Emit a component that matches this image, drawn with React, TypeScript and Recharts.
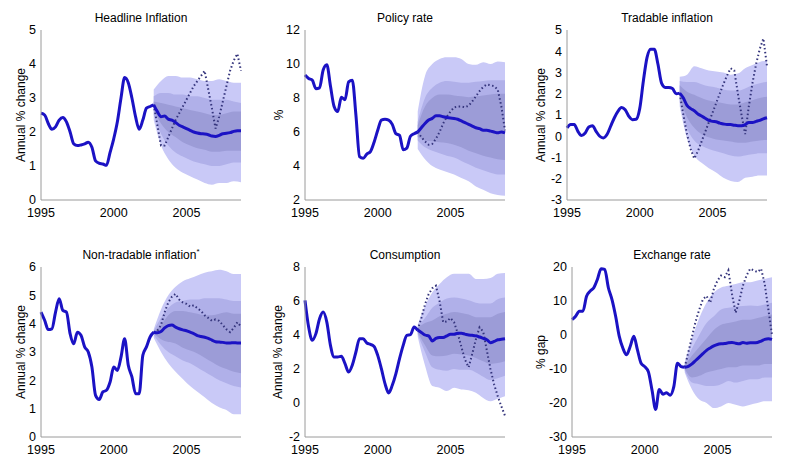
import { ComposedChart, Line, Area, XAxis, YAxis } from 'recharts';

// time points (quarters)
const histQuarters = [
  1995, 1995.25, 1995.5, 1995.75, 1996, 1996.25, 1996.5, 1996.75,
  1997, 1997.25, 1997.5, 1997.75, 1998, 1998.25, 1998.5, 1998.75,
  1999, 1999.25, 1999.5, 1999.75, 2000, 2000.25, 2000.5, 2000.75,
  2001, 2001.25, 2001.5, 2001.75, 2002, 2002.25, 2002.5, 2002.75,
];
const fcQuarters = [
  2002.75, 2003, 2003.25, 2003.5, 2003.75, 2004, 2004.25, 2004.5, 2004.75,
  2005, 2005.25, 2005.5, 2005.75, 2006, 2006.25, 2006.5, 2006.75,
  2007, 2007.25, 2007.5, 2007.75, 2008, 2008.25, 2008.5, 2008.75,
];
const bandQuarters = [
  2002.75, 2003.25, 2003.75, 2004.25, 2004.75, 2005.25, 2005.75,
  2006.25, 2006.75, 2007.25, 2007.75, 2008.25, 2008.75,
];
const yearTicks = [1995, 2000, 2005];

// Headline inflation
const headlineHist = [2.55, 2.5, 2.25, 2.08, 2.15, 2.35, 2.43, 2.3, 2.0, 1.65, 1.6, 1.62, 1.65, 1.7, 1.55, 1.15, 1.08, 1.06, 1.02, 1.4, 1.8, 2.3, 3.0, 3.6, 3.45, 3.0, 2.45, 2.08, 2.35, 2.7, 2.75, 2.8];
const headlineMedian = [2.8, 2.6, 2.45, 2.47, 2.38, 2.35, 2.28, 2.2, 2.15, 2.1, 2.05, 2.0, 1.97, 1.95, 1.94, 1.92, 1.88, 1.87, 1.9, 1.95, 1.96, 1.98, 2.02, 2.04, 2.04];
const headlinePath = [2.8, 2.2, 1.6, 1.6, 1.85, 2.1, 2.35, 2.55, 2.75, 2.95, 3.15, 3.35, 3.5, 3.65, 3.8, 3.25, 2.7, 2.1, 2.45, 2.9, 3.35, 3.8, 4.1, 4.3, 3.8];
const headlineOuterHi = [3.25, 3.5, 3.65, 3.65, 3.6, 3.6, 3.55, 3.5, 3.5, 3.55, 3.5, 3.45, 3.45];
const headlineMidHi = [3.05, 3.15, 3.15, 3.1, 3.1, 3.05, 3.05, 3.0, 2.95, 2.95, 2.95, 2.9, 2.85];
const headlineInnerHi = [2.9, 2.85, 2.8, 2.75, 2.7, 2.65, 2.6, 2.55, 2.5, 2.5, 2.55, 2.6, 2.6];
const headlineInnerLo = [2.65, 2.25, 2.0, 1.85, 1.7, 1.6, 1.52, 1.48, 1.42, 1.42, 1.45, 1.45, 1.45];
const headlineMidLo = [2.5, 1.95, 1.6, 1.4, 1.28, 1.18, 1.1, 1.05, 1.0, 1.0, 1.05, 1.1, 1.1];
const headlineOuterLo = [2.35, 1.6, 1.2, 0.95, 0.8, 0.7, 0.6, 0.5, 0.45, 0.5, 0.5, 0.55, 0.52];
const headlineTicks = [0, 1, 2, 3, 4, 5];

// Policy rate
const policyHist = [9.35, 9.15, 9.05, 8.55, 8.6, 9.65, 9.95, 8.7, 7.5, 7.2, 8.05, 7.9, 8.95, 9.05, 7.0, 4.55, 4.45, 4.7, 4.85, 5.4, 6.1, 6.7, 6.75, 6.7, 6.45, 5.9, 5.8, 4.95, 5.05, 5.75, 5.9, 6.0];
const policyMedian = [6.0, 6.25, 6.5, 6.7, 6.8, 6.95, 6.95, 6.9, 6.85, 6.82, 6.8, 6.75, 6.65, 6.55, 6.45, 6.35, 6.25, 6.2, 6.1, 6.1, 6.05, 6.0, 5.95, 6.0, 5.95];
const policyPath = [6.0, 5.7, 5.45, 5.25, 5.3, 5.6, 6.0, 6.5, 6.9, 7.2, 7.45, 7.5, 7.5, 7.45, 7.55, 7.8, 8.1, 8.4, 8.65, 8.8, 8.75, 8.7, 8.5, 7.5, 6.1];
const policyOuterHi = [7.2, 9.3, 10.0, 10.3, 10.4, 10.4, 10.3, 10.0, 9.95, 10.1, 10.0, 10.15, 10.1];
const policyMidHi = [6.6, 8.0, 8.6, 8.9, 9.0, 8.95, 8.9, 8.9, 8.95, 9.0, 9.05, 9.05, 9.05];
const policyInnerHi = [6.4, 7.5, 8.0, 8.2, 8.2, 8.15, 8.1, 8.05, 8.1, 8.15, 8.2, 8.25, 8.25];
const policyInnerLo = [5.7, 5.5, 5.45, 5.4, 5.35, 5.25, 5.1, 4.9, 4.75, 4.6, 4.5, 4.4, 4.35];
const policyMidLo = [5.5, 5.1, 4.9, 4.75, 4.6, 4.5, 4.3, 4.1, 3.9, 3.75, 3.6, 3.5, 3.5];
const policyOuterLo = [5.0, 4.4, 4.0, 3.8, 3.65, 3.5, 3.3, 3.1, 2.8, 2.6, 2.4, 2.3, 2.25];
const policyTicks = [2, 4, 6, 8, 10, 12];

// Tradable inflation
const tradableHist = [0.39, 0.55, 0.55, 0.23, 0.03, 0.15, 0.44, 0.5, 0.23, 0.0, -0.08, 0.08, 0.47, 0.86, 1.17, 1.35, 1.25, 0.94, 0.78, 0.8, 1.3, 2.6, 3.7, 4.1, 4.1, 3.4, 2.5, 2.3, 2.3, 2.25, 2.0, 2.03];
const tradableMedian = [2.03, 1.8, 1.45, 1.3, 1.2, 1.05, 0.95, 0.85, 0.75, 0.7, 0.68, 0.62, 0.58, 0.55, 0.55, 0.52, 0.5, 0.5, 0.55, 0.65, 0.65, 0.7, 0.75, 0.82, 0.87];
const tradablePath = [2.0, 1.0, 0.1, -0.6, -1.05, -0.7, -0.25, 0.2, 0.65, 1.1, 1.55, 2.0, 2.45, 2.85, 3.2, 3.1, 2.0, 1.0, 0.1, 1.4, 2.5, 3.4, 4.1, 4.6, 3.3];
const tradableOuterHi = [2.8, 2.9, 3.3, 3.2, 3.1, 3.05, 3.0, 2.9, 2.95, 3.2, 3.35, 3.5, 3.55];
const tradableMidHi = [2.6, 2.55, 2.55, 2.45, 2.35, 2.3, 2.2, 2.15, 2.15, 2.25, 2.4, 2.5, 2.57];
const tradableInnerHi = [2.4, 2.1, 1.95, 1.8, 1.68, 1.62, 1.55, 1.5, 1.5, 1.6, 1.7, 1.8, 1.86];
const tradableInnerLo = [1.8, 0.9, 0.4, 0.1, -0.05, -0.15, -0.2, -0.25, -0.3, -0.3, -0.25, -0.2, -0.18];
const tradableMidLo = [1.6, 0.4, -0.2, -0.45, -0.6, -0.7, -0.8, -0.9, -0.95, -0.9, -0.85, -0.8, -0.8];
const tradableOuterLo = [1.4, -0.1, -0.9, -1.25, -1.5, -1.7, -1.95, -2.1, -2.15, -1.95, -1.9, -1.85, -1.85];
const tradableTicks = [-3, -2, -1, 0, 1, 2, 3, 4, 5];

// Non-tradable inflation
const nontradHist = [4.41, 4.12, 3.79, 3.82, 4.41, 4.88, 4.47, 4.41, 3.65, 3.29, 3.7, 3.59, 3.18, 3.0, 2.47, 1.47, 1.32, 1.59, 1.65, 1.94, 2.47, 2.35, 2.82, 3.47, 2.53, 2.12, 1.53, 1.53, 2.88, 3.18, 3.53, 3.7];
const nontradMedian = [3.7, 3.68, 3.72, 3.85, 3.93, 3.95, 3.88, 3.82, 3.78, 3.75, 3.7, 3.65, 3.58, 3.55, 3.52, 3.48, 3.42, 3.36, 3.35, 3.34, 3.32, 3.32, 3.33, 3.32, 3.32];
const nontradPath = [3.7, 3.75, 3.95, 4.4, 4.75, 4.95, 5.05, 4.85, 4.75, 4.7, 4.6, 4.65, 4.55, 4.45, 4.3, 4.2, 4.1, 4.15, 4.1, 3.95, 3.8, 3.7, 3.85, 4.05, 3.9];
const nontradOuterHi = [3.8, 4.5, 5.0, 5.3, 5.5, 5.6, 5.7, 5.8, 5.85, 5.9, 5.85, 5.75, 5.75];
const nontradMidHi = [3.75, 4.2, 4.55, 4.75, 4.8, 4.85, 4.85, 4.9, 4.9, 4.9, 4.85, 4.8, 4.8];
const nontradInnerHi = [3.72, 3.95, 4.3, 4.45, 4.45, 4.4, 4.35, 4.3, 4.3, 4.35, 4.4, 4.35, 4.35];
const nontradInnerLo = [3.65, 3.45, 3.35, 3.3, 3.15, 3.05, 2.95, 2.8, 2.65, 2.5, 2.4, 2.3, 2.25];
const nontradMidLo = [3.6, 3.25, 3.0, 2.85, 2.7, 2.6, 2.45, 2.3, 2.15, 2.0, 1.9, 1.8, 1.75];
const nontradOuterLo = [3.5, 3.0, 2.6, 2.3, 2.05, 1.8, 1.6, 1.4, 1.2, 1.05, 0.95, 0.8, 0.8];
const nontradTicks = [0, 1, 2, 3, 4, 5, 6];

// Consumption
const consHist = [6.04, 4.47, 3.69, 4.08, 4.96, 5.35, 4.76, 3.39, 2.71, 2.71, 2.75, 2.31, 1.82, 2.22, 3.0, 3.78, 3.78, 3.53, 3.45, 3.33, 2.8, 2.02, 1.14, 0.59, 1.04, 1.73, 2.61, 3.39, 3.98, 4.02, 4.47, 4.27];
const consMedian = [4.3, 4.15, 4.0, 3.95, 3.65, 3.8, 3.85, 3.85, 3.95, 4.05, 4.05, 4.1, 4.1, 4.05, 4.0, 3.98, 3.95, 3.88, 3.8, 3.72, 3.55, 3.62, 3.72, 3.75, 3.78];
const consPath = [4.3, 5.0, 5.8, 6.4, 6.75, 6.9, 6.0, 4.75, 4.8, 5.0, 4.75, 4.1, 3.3, 2.55, 2.1, 2.9, 3.75, 4.45, 4.2, 3.1, 2.0, 1.1, 0.4, -0.2, -0.75];
const consOuterHi = [4.6, 5.7, 6.5, 7.0, 7.4, 7.6, 7.6, 7.6, 7.3, 7.3, 7.35, 7.6, 7.65];
const consMidHi = [4.5, 5.0, 5.6, 5.9, 6.15, 6.2, 6.15, 6.05, 5.9, 5.85, 5.85, 6.1, 6.2];
const consInnerHi = [4.4, 4.7, 4.85, 5.1, 5.25, 5.35, 5.3, 5.2, 5.05, 5.05, 5.05, 5.25, 5.35];
const consInnerLo = [4.15, 3.4, 2.8, 2.75, 2.8, 2.9, 2.85, 2.8, 2.65, 2.45, 2.3, 2.35, 2.45];
const consMidLo = [4.05, 3.0, 2.1, 1.95, 1.9, 2.0, 1.95, 1.95, 1.8, 1.55, 1.35, 1.45, 1.6];
const consOuterLo = [3.9, 2.2, 1.0, 0.9, 0.7, 0.9, 0.8, 0.75, 0.6, 0.3, 0.1, 0.25, 0.4];
const consTicks = [-2, 0, 2, 4, 6, 8];

// Exchange rate
const fxHist = [4.5, 5.5, 7.0, 7.0, 11.4, 12.9, 13.9, 16.4, 19.5, 19.3, 13.9, 10.4, 5.5, -0.4, -3.9, -5.8, -3.4, -0.4, -4.4, -8.3, -9.3, -10.8, -16.2, -21.9, -16.0, -17.4, -17.0, -17.7, -15.2, -8.3, -9.3, -9.5];
const fxMedian = [-9.5, -9.2, -8.5, -7.5, -6.5, -5.5, -4.5, -3.8, -3.2, -2.8, -2.6, -2.5, -2.3, -2.2, -2.4, -2.6, -2.2, -2.4, -2.3, -2.3, -2.2, -1.8, -1.3, -1.1, -1.3];
const fxPath = [-9.5, -5, -0.5, 4, 7.5, 10.5, 11.5, 9.5, 13.5, 16, 17.5, 17, 19, 12, 6.5, 10, 14.5, 17.5, 19.5, 19, 18.5, 19.5, 15, 7.5, 0];
const fxOuterHi = [-8, -1, 5, 9.5, 12.5, 14, 14.5, 15, 15.5, 15.5, 16, 16.5, 17];
const fxMidHi = [-8.5, -4, 0, 3.5, 5.5, 7.5, 8, 8.3, 8.5, 8.7, 8.5, 9, 9.5];
const fxInnerHi = [-9, -6, -3.5, -1, 1.5, 3, 3.5, 4, 4.5, 4.5, 5, 5.5, 6];
const fxInnerLo = [-10, -12.5, -12, -11, -10.5, -10, -9.5, -9.5, -9, -9, -9, -8.5, -8.5];
const fxMidLo = [-10.5, -14, -14.5, -15, -15, -14.5, -13.5, -14, -13.5, -13, -13, -12.5, -12.5];
const fxOuterLo = [-11, -16, -19, -20, -21.5, -21, -20, -20.5, -21, -20.5, -20, -19.5, -19.5];
const fxTicks = [-30, -20, -10, 0, 10, 20];

type Series = {
  hist: number[]; median: number[]; path: number[];
  outerHi: number[]; midHi: number[]; innerHi: number[];
  innerLo: number[]; midLo: number[]; outerLo: number[];
};

function buildRows(s: Series) {
  const map = new Map<number, any>();
  const row = (t: number) => {
    if (!map.has(t)) map.set(t, { t });
    return map.get(t);
  };
  histQuarters.forEach((t, i) => { row(t).hist = s.hist[i]; });
  fcQuarters.forEach((t, i) => {
    const r = row(t);
    r.median = s.median[i];
    r.path = s.path[i];
  });
  bandQuarters.forEach((t, i) => {
    const r = row(t);
    r.outer = [s.outerLo[i], s.outerHi[i]];
    r.mid = [s.midLo[i], s.midHi[i]];
    r.inner = [s.innerLo[i], s.innerHi[i]];
  });
  return [...map.values()].sort((a, b) => a.t - b.t);
}

const FONT = '"Liberation Sans", Arial, Helvetica, sans-serif';
const AXIS = '#9a9a9a';
const BLUE = '#1b12c4';

const PLOT_W = 200;
const PLOT_H = 170;
const TOP = 12;
const XAXIS_H = 30;

type PanelProps = {
  title: React.ReactNode;
  yLabel: string;
  ticks: number[];
  series: Series;
  plotLeft: number;
  plotTop: number;
  labelWidth: number;
};

function Panel({ title, yLabel, ticks, series, plotLeft, plotTop, labelWidth }: PanelProps) {
  const rows = buildRows(series);
  const w = labelWidth + PLOT_W + 6;
  const h = TOP + PLOT_H + XAXIS_H;
  return (
    <>
      <div style={{ position: 'absolute', left: plotLeft - labelWidth, top: plotTop - TOP }}>
        <ComposedChart width={w} height={h} data={rows} margin={{ top: TOP, right: 6, bottom: 0, left: 0 }}>
          <XAxis
            dataKey="t"
            type="number"
            domain={[1995, 2008.75]}
            ticks={yearTicks}
            interval={0}
            height={XAXIS_H}
            axisLine={{ stroke: AXIS }}
            tickLine={false}
            tickSize={0}
            tickMargin={8}
            tick={{ fill: '#000', fontSize: 12.5, fontFamily: FONT }}
          />
          <YAxis
            type="number"
            domain={[ticks[0], ticks[ticks.length - 1]]}
            ticks={ticks}
            interval={0}
            width={labelWidth}
            axisLine={{ stroke: AXIS }}
            tickLine={false}
            tickSize={0}
            tickMargin={5}
            tick={{ fill: '#000', fontSize: 12.5, fontFamily: FONT }}
            label={{ value: yLabel, angle: -90, position: 'center', style: { fill: '#000', fontSize: 12, fontFamily: FONT } }}
          />
          <Area dataKey="outer" type="monotone" stroke="none" fill="#c9c9f7" fillOpacity={1} connectNulls isAnimationActive={false} dot={false} activeDot={false} />
          <Area dataKey="mid" type="monotone" stroke="none" fill="#b0b0e9" fillOpacity={1} connectNulls isAnimationActive={false} dot={false} activeDot={false} />
          <Area dataKey="inner" type="monotone" stroke="none" fill="#9c9cd7" fillOpacity={1} connectNulls isAnimationActive={false} dot={false} activeDot={false} />
          <Line dataKey="path" type="linear" stroke="#34347c" strokeWidth={2} strokeDasharray="1.5 2.5" dot={false} activeDot={false} connectNulls isAnimationActive={false} />
          <Line dataKey="hist" type="monotone" stroke={BLUE} strokeWidth={3} dot={false} activeDot={false} connectNulls isAnimationActive={false} />
          <Line dataKey="median" type="monotone" stroke={BLUE} strokeWidth={3} dot={false} activeDot={false} connectNulls isAnimationActive={false} />
        </ComposedChart>
      </div>
      <div
        style={{
          position: 'absolute',
          left: plotLeft,
          top: plotTop - 19,
          width: PLOT_W,
          textAlign: 'center',
          fontFamily: FONT,
          fontSize: 12,
          lineHeight: '14px',
          color: '#000',
        }}
      >
        {title}
      </div>
    </>
  );
}

export default function App() {
  return (
    <div style={{ position: 'absolute', left: 0, top: 0, width: 792, height: 467, background: '#fff', overflow: 'hidden' }}>
      <Panel
        title="Headline Inflation"
        yLabel="Annual % change"
        ticks={headlineTicks}
        plotLeft={41}
        plotTop={30}
        labelWidth={41}
        series={{ hist: headlineHist, median: headlineMedian, path: headlinePath, outerHi: headlineOuterHi, midHi: headlineMidHi, innerHi: headlineInnerHi, innerLo: headlineInnerLo, midLo: headlineMidLo, outerLo: headlineOuterLo }}
      />
      <Panel
        title="Policy rate"
        yLabel="%"
        ticks={policyTicks}
        plotLeft={305}
        plotTop={30}
        labelWidth={52}
        series={{ hist: policyHist, median: policyMedian, path: policyPath, outerHi: policyOuterHi, midHi: policyMidHi, innerHi: policyInnerHi, innerLo: policyInnerLo, midLo: policyMidLo, outerLo: policyOuterLo }}
      />
      <Panel
        title="Tradable inflation"
        yLabel="Annual % change"
        ticks={tradableTicks}
        plotLeft={567}
        plotTop={30}
        labelWidth={52}
        series={{ hist: tradableHist, median: tradableMedian, path: tradablePath, outerHi: tradableOuterHi, midHi: tradableMidHi, innerHi: tradableInnerHi, innerLo: tradableInnerLo, midLo: tradableMidLo, outerLo: tradableOuterLo }}
      />
      <Panel
        title={<span>Non-tradable inflation<sup style={{ fontSize: 8, lineHeight: 0 }}>*</sup></span>}
        yLabel="Annual % change"
        ticks={nontradTicks}
        plotLeft={41}
        plotTop={267}
        labelWidth={40}
        series={{ hist: nontradHist, median: nontradMedian, path: nontradPath, outerHi: nontradOuterHi, midHi: nontradMidHi, innerHi: nontradInnerHi, innerLo: nontradInnerLo, midLo: nontradMidLo, outerLo: nontradOuterLo }}
      />
      <Panel
        title="Consumption"
        yLabel="Annual % change"
        ticks={consTicks}
        plotLeft={305}
        plotTop={267}
        labelWidth={54}
        series={{ hist: consHist, median: consMedian, path: consPath, outerHi: consOuterHi, midHi: consMidHi, innerHi: consInnerHi, innerLo: consInnerLo, midLo: consMidLo, outerLo: consOuterLo }}
      />
      <Panel
        title="Exchange rate"
        yLabel="% gap"
        ticks={fxTicks}
        plotLeft={572}
        plotTop={267}
        labelWidth={62}
        series={{ hist: fxHist, median: fxMedian, path: fxPath, outerHi: fxOuterHi, midHi: fxMidHi, innerHi: fxInnerHi, innerLo: fxInnerLo, midLo: fxMidLo, outerLo: fxOuterLo }}
      />
    </div>
  );
}
